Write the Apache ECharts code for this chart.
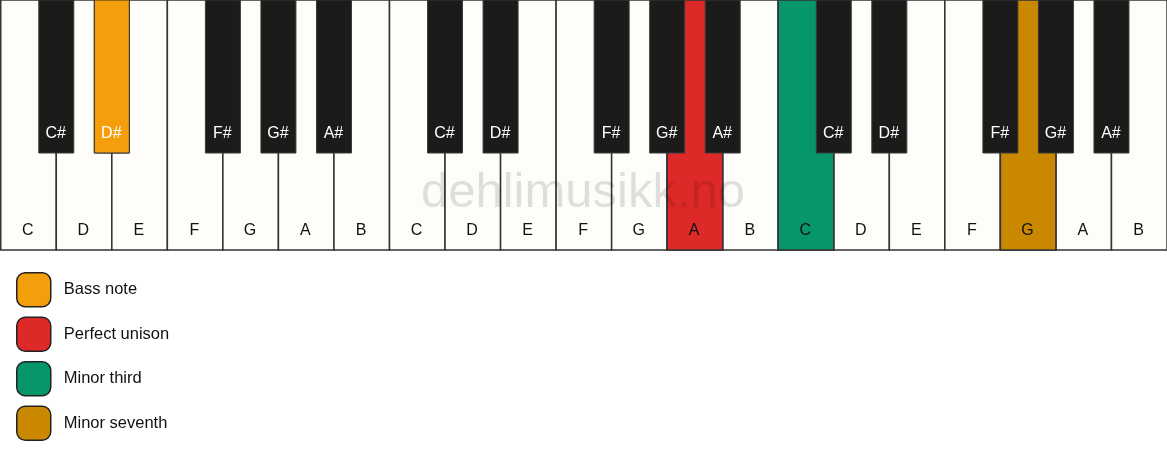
<!DOCTYPE html>
<html>
<head>
<meta charset="utf-8">
<script src="https://cdn.jsdelivr.net/npm/echarts@6/dist/echarts.min.js"></script>
<style>
  html, body { margin: 0; padding: 0; background: #fff; }
  #chart { width: 1167px; height: 461px; }
</style>
</head>
<body>
<div id="chart"></div>
<script>
// keyboard: 3 octaves, white keys left to right
const whiteNames = ['C', 'D', 'E', 'F', 'G', 'A', 'B']
const octaves = 3
// black keys sit on the boundary after this white key index (within an octave)
const blackNames = ['C#', 'D#', 'F#', 'G#', 'A#']
const blackBoundary = [1, 2, 4, 5, 6]

// highlighted notes, one per legend entry
const legendNames = ['Bass note', 'Perfect unison', 'Minor third', 'Minor seventh']
const highlightNotes = ['D#', 'A', 'C', 'G']
const highlightOctave = [0, 1, 2, 2]
const highlightColors = ['#f59e0b', '#de2929', '#06966a', '#c98800']

const watermark = 'dehlimusikk.no'

const FONT = '"Liberation Sans", Arial, sans-serif'
const KEY_H = 250       // y axis range
const BLACK_H = 153
const BLACK_W = 0.63    // in white-key units

// build key lists
let whiteKeys = []
let blackKeys = []
for (let o = 0; o < octaves; o++) {
  whiteNames.forEach((n, i) => whiteKeys.push({ value: [o * 7 + i, 0], name: n }))
  blackNames.forEach((n, i) => blackKeys.push({ value: [o * 7 + blackBoundary[i], 1], name: n }))
}

function keyFor(note, oct) {
  let wi = whiteNames.indexOf(note)
  if (wi >= 0) return { value: [oct * 7 + wi, 0], name: note }
  let bi = blackNames.indexOf(note)
  return { value: [oct * 7 + blackBoundary[bi], 1], name: note }
}

function renderKey(keys, fill) {
  return function (params, api) {
    let pos = api.value(0)
    let black = api.value(1) === 1
    let x0, x1, y1
    if (black) {
      x0 = pos - BLACK_W / 2; x1 = pos + BLACK_W / 2; y1 = BLACK_H
    } else {
      x0 = pos; x1 = pos + 1; y1 = KEY_H
    }
    let a = api.coord([x0, 0])
    let b = api.coord([x1, y1])
    let color = fill || (black ? '#1c1b1a' : '#fffdf9')
    return {
      type: 'rect',
      shape: { x: a[0], y: a[1], width: b[0] - a[0], height: b[1] - a[1] },
      style: {
        fill: color,
        stroke: black && !fill ? '#3a3a3a' : '#333',
        lineWidth: black ? 1 : 1.5
      },
      textContent: {
        style: {
          text: keys[params.dataIndex].name,
          fill: black ? '#fff' : '#111',
          font: '16px ' + FONT,
          align: 'center',
          verticalAlign: 'middle'
        }
      },
      textConfig: {
        position: [(b[0] - a[0]) / 2, black ? 134 : 231]
      }
    }
  }
}

let series = [
  { type: 'custom', name: 'white', z: 1, renderItem: renderKey(whiteKeys, null), data: whiteKeys, silent: true },
  { type: 'custom', name: 'black', z: 3, renderItem: renderKey(blackKeys, null), data: blackKeys, silent: true }
]
legendNames.forEach((name, i) => {
  let key = keyFor(highlightNotes[i], highlightOctave[i])
  series.push({
    type: 'custom',
    name: name,
    z: key.value[1] === 1 ? 4 : 2,
    itemStyle: { color: highlightColors[i] },
    renderItem: renderKey([key], highlightColors[i]),
    data: [key],
    silent: true
  })
})

const chart = echarts.init(document.getElementById('chart'))
chart.setOption({
  animation: false,
  grid: { left: 0.75, top: 0, width: 1167, height: KEY_H },
  xAxis: { type: 'value', min: 0, max: whiteNames.length * octaves, show: false },
  yAxis: { type: 'value', min: 0, max: KEY_H, inverse: true, show: false },
  legend: {
    data: legendNames,
    orient: 'vertical',
    left: 16,
    top: 272,
    padding: 0,
    itemWidth: 34,
    itemHeight: 34,
    itemGap: 9,
    icon: 'roundRect',
    selectedMode: false,
    itemStyle: { borderColor: '#222', borderWidth: 1.5 },
    textStyle: { fontFamily: FONT, fontSize: 16.5, color: '#111', padding: [0, 0, 0, 8] }
  },
  graphic: [{
    type: 'text',
    x: 583,
    y: 193,
    z: 100,
    silent: true,
    style: {
      text: watermark,
      font: '49px ' + FONT,
      fill: 'rgba(0,0,0,0.12)',
      textAlign: 'center',
      textVerticalAlign: 'middle'
    }
  }],
  series: series
})
</script>
</body>
</html>
